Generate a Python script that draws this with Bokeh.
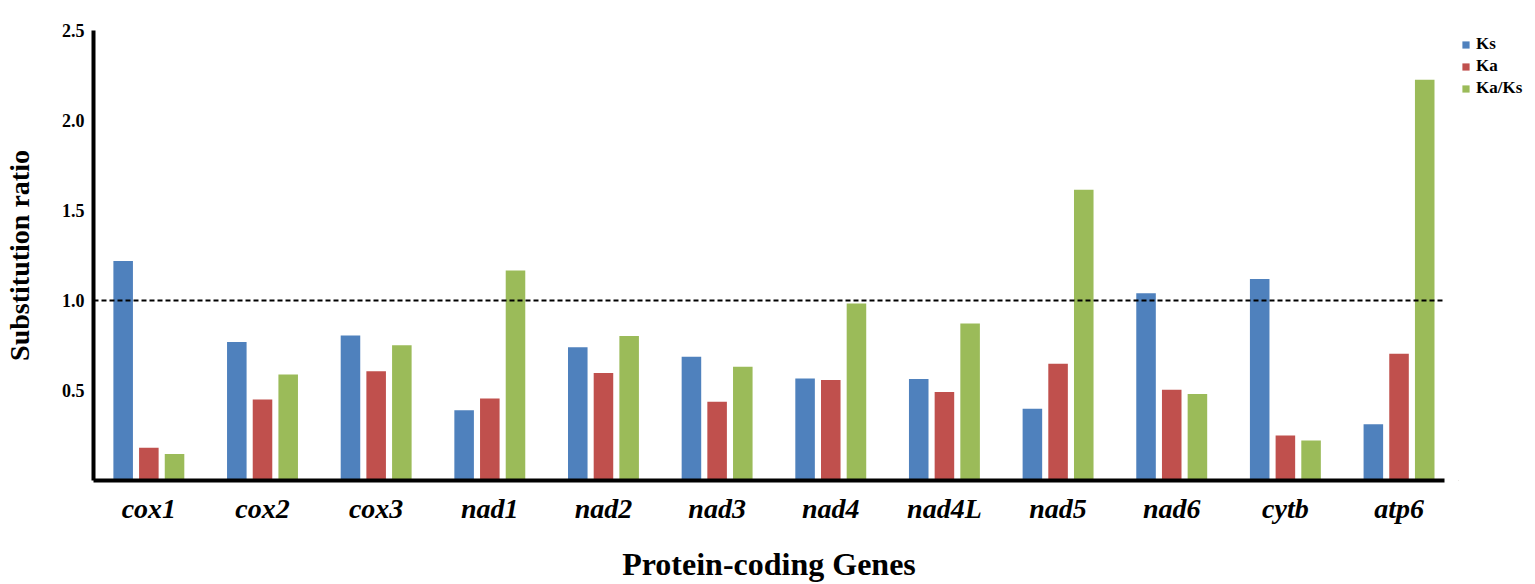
from bokeh.plotting import figure
from bokeh.layouts import row
from bokeh.models import (ColumnDataSource, Range1d, FixedTicker, PrintfTickFormatter,
                          Span, Legend, LegendItem)
from bokeh.transform import dodge
from bokeh.embed import file_html
from bokeh.resources import INLINE

genes = ["cox1", "cox2", "cox3", "nad1", "nad2", "nad3", "nad4", "nad4L",
         "nad5", "nad6", "cytb", "atp6"]
ks = [1.22, 0.77, 0.805, 0.39, 0.74, 0.688, 0.567, 0.564, 0.398, 1.04, 1.12, 0.313]
ka = [0.182, 0.45, 0.607, 0.456, 0.597, 0.437, 0.558, 0.491, 0.648, 0.504, 0.25, 0.704]
kaks = [0.147, 0.589, 0.752, 1.167, 0.803, 0.632, 0.983, 0.872, 1.615, 0.481, 0.222, 2.226]
series = ["Ks", "Ka", "Ka/Ks"]
colors = ["#4F81BD", "#C0504D", "#9BBB59"]
y_ticks = [0.5, 1.0, 1.5, 2.0, 2.5]
threshold = 1.0

idx = list(range(len(genes)))
src = ColumnDataSource(dict(x=idx, gene=genes, ks=ks, ka=ka, kaks=kaks))

FONT = "Liberation Serif"
H = 584
p = figure(width=1458, height=H, output_backend="svg", toolbar_location=None,
           x_range=Range1d(-0.487, 11.4), y_range=Range1d(0, 2.5),
           min_border_left=85, min_border_right=14, min_border_top=30, min_border_bottom=104)
p.outline_line_color = None
p.xgrid.grid_line_color = None
p.ygrid.grid_line_color = None

bw = 0.172
for col, off, c in zip(["ks", "ka", "kaks"], [-0.226, 0.0, 0.226], colors):
    p.vbar(x=dodge("x", off, range=p.x_range), top=col, width=bw,
           source=src, fill_color=c, line_color=None)

p.add_layout(Span(location=threshold, dimension="width", line_color="black",
                  line_width=2, line_dash="5 3"))

for ax in (p.xaxis[0], p.yaxis[0]):
    ax.axis_line_color = "black"
    ax.axis_line_width = 4
    ax.major_tick_line_color = None
    ax.minor_tick_line_color = None
    ax.major_tick_out = 0
    ax.major_tick_in = 0
    ax.major_label_text_font = FONT
    ax.axis_label_text_font = FONT
    ax.axis_label_text_font_style = "bold"
    ax.axis_label_text_color = "black"
    ax.major_label_text_color = "black"

p.xaxis.ticker = FixedTicker(ticks=idx)
p.xaxis.major_label_overrides = {i: g for i, g in zip(idx, genes)}
p.xaxis.major_label_text_font_style = "bold italic"
p.xaxis.major_label_text_font_size = "28px"
p.xaxis.major_label_standoff = 12
p.xaxis.axis_label = "Protein-coding Genes"
p.xaxis.axis_label_text_font_size = "32px"
p.xaxis.axis_label_standoff = 19

p.yaxis.ticker = FixedTicker(ticks=y_ticks)
p.yaxis.formatter = PrintfTickFormatter(format="%.1f")
p.yaxis.major_label_text_font_style = "bold"
p.yaxis.major_label_text_font_size = "18px"
p.yaxis.major_label_standoff = 9
p.yaxis.axis_label = "Substitution ratio"
p.yaxis.axis_label_text_font_size = "28px"
p.yaxis.axis_label_standoff = 24

# legend panel
lf = figure(width=69, height=H, output_backend="svg", toolbar_location=None, title=None,
            x_range=Range1d(0, 1), y_range=Range1d(0, 1), min_border=0)
lf.axis.visible = False
lf.grid.visible = False
lf.outline_line_color = None
items = []
for name, c in zip(series, colors):
    r = lf.vbar(x=[-5], top=[-5], bottom=[-6], width=0.1, fill_color=c, line_color=None)
    items.append(LegendItem(label=name, renderers=[r]))
legend = Legend(items=items, location="top_left", orientation="vertical",
                glyph_width=9, glyph_height=9, label_height=22, spacing=0,
                padding=0, margin=3, label_standoff=6,
                label_text_font=FONT, label_text_font_style="bold",
                label_text_font_size="17px", label_text_color="black",
                border_line_color=None, background_fill_alpha=0)
lf.add_layout(legend)

layout = row(p, lf)
open("out.html", "w").write(file_html(layout, INLINE))
